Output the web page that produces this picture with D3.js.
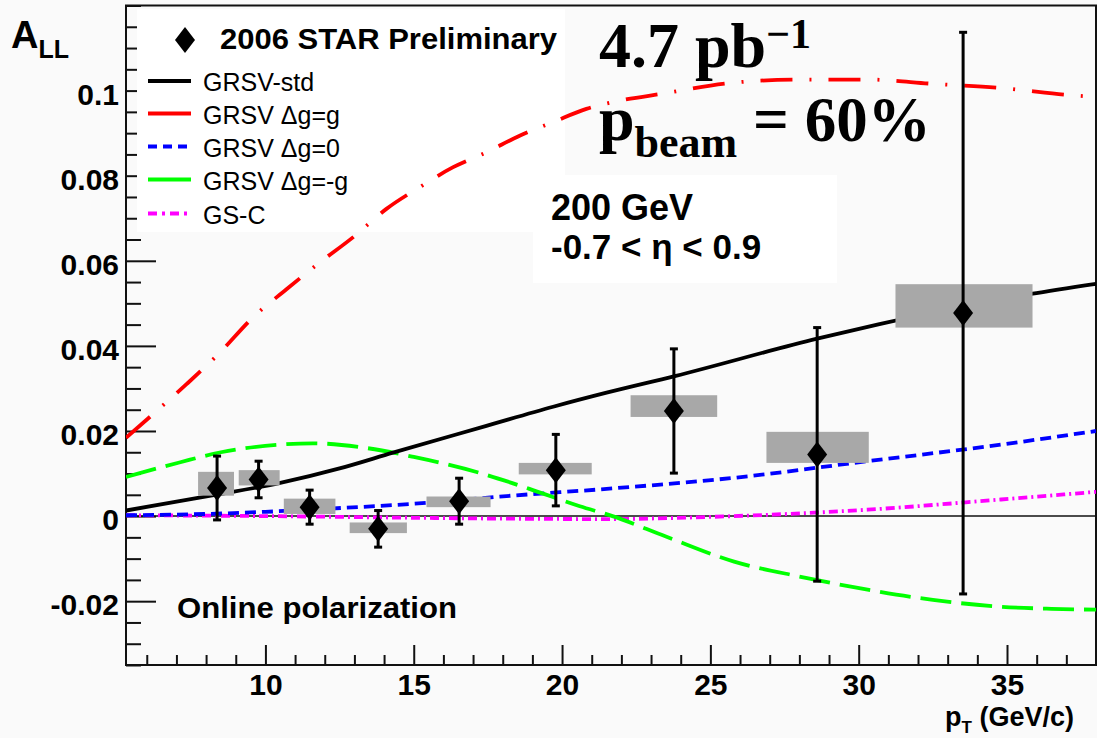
<!DOCTYPE html>
<html>
<head>
<meta charset="utf-8">
<script src="https://cdn.jsdelivr.net/npm/d3@7/dist/d3.min.js"></script>
<style>
  html, body { margin: 0; padding: 0; background: #fafafa; }
  svg { display: block; }
</style>
</head>
<body>
<svg id="chart" width="1097" height="738" font-family="'Liberation Sans', Arial, Helvetica, sans-serif"></svg>
<script>
// ---- Data: STAR 2006 inclusive jet A_LL vs pT ----
const pT      = [8.37, 9.77, 11.49, 13.80, 16.53, 19.79, 23.77, 28.60, 33.52];
const ALL     = [0.0066, 0.0086, 0.0021, -0.0030, 0.0035, 0.0108, 0.0247, 0.0145, 0.0477];
const statErr = [0.0075, 0.0043, 0.0040, 0.0043, 0.0054, 0.0084, 0.0146, 0.0298, 0.0660];
const sysLo   = [0.0048, 0.0072, 0.0005, -0.0040, 0.0021, 0.0098, 0.0233, 0.0125, 0.0443];
const sysHi   = [0.0104, 0.0108, 0.0041, -0.0015, 0.0046, 0.0125, 0.0284, 0.0198, 0.0545];
const binLo   = [7.73, 9.10, 10.62, 12.84, 15.43, 18.54, 22.31, 26.89, 31.24];
const binHi   = [8.94, 10.48, 12.36, 14.77, 17.59, 21.00, 25.23, 30.34, 35.86];

// Theory curves (pT, A_LL)
const stdPt  = [5.3, 7.1, 8.5, 10.5, 12.5, 14.3, 17.45, 19.7, 21.5, 23.8, 28.6, 30.7, 35.8, 38];
const stdVal = [0.0013, 0.0035, 0.0052, 0.0078, 0.0112, 0.0149, 0.0212, 0.0257, 0.0290, 0.0329, 0.0417, 0.0451, 0.0522, 0.0546];

const gPt  = [5.3, 6.2, 7.34, 8.46, 9.58, 10.71, 11.83, 12.95, 14.08, 15.2, 16.33, 17.45, 18.57, 19.7, 20.82, 21.72, 23.5, 25.7, 28.0, 30.3, 32.5, 34.8, 37.2, 38];
const gVal = [0.0184, 0.0239, 0.0310, 0.0384, 0.0467, 0.0533, 0.0596, 0.0655, 0.0722, 0.0773, 0.0820, 0.0855, 0.0894, 0.0926, 0.0957, 0.0973, 0.0994, 0.1018, 0.1026, 0.1026, 0.1016, 0.1006, 0.0989, 0.0985];

const zeroPt  = [5.3, 8.0, 10.0, 12.0, 15.0, 18.3, 21.7, 25.8, 30.3, 34.8, 38];
const zeroVal = [0.0002, 0.0005, 0.0010, 0.0017, 0.0029, 0.0048, 0.0065, 0.0090, 0.0129, 0.0168, 0.0200];

const negPt  = [5.3, 7.1, 8.5, 10.5, 11.6, 13.4, 15.0, 17.2, 18.9, 20.6, 21.7, 23.5, 25.8, 28.0, 30.3, 32.5, 34.8, 36.5, 38];
const negVal = [0.0092, 0.0126, 0.0150, 0.0168, 0.0171, 0.0160, 0.0139, 0.0102, 0.0064, 0.0023, 0.0000, -0.0048, -0.0107, -0.0142, -0.0173, -0.0197, -0.0213, -0.0218, -0.0220];

const gscPt  = [5.3, 10.0, 15.0, 18.0, 21.3, 25.8, 30.3, 34.8, 38];
const gscVal = [0.0002, 0.0000, -0.0004, -0.0006, -0.0007, 0.0000, 0.0015, 0.0039, 0.0057];

const curveNames = ["GRSV-std", "GRSV \u0394g=g", "GRSV \u0394g=0", "GRSV \u0394g=-g", "GS-C"];

const xTickValues = [10, 15, 20, 25, 30, 35];
const xTickLabels = ["10", "15", "20", "25", "30", "35"];
const yTickValues = [-0.02, 0, 0.02, 0.04, 0.06, 0.08, 0.1];
const yTickLabels = ["-0.02", "0", "0.02", "0.04", "0.06", "0.08", "0.1"];

// ---- Layout ----
const svg = d3.select("#chart");
const padL = 126, padR = 1096, padT = 5.5, padB = 665;

const x = d3.scaleLinear().domain([5.3, 38]).range([padL, padR]);
const y = d3.scaleLinear().domain([-0.035, 0.12]).range([padB, padT]);

svg.append("rect").attr("width", 1097).attr("height", 738).attr("fill", "#fafafa");

svg.append("defs").append("clipPath").attr("id", "plotclip")
  .append("rect").attr("x", padL).attr("y", padT).attr("width", padR - padL).attr("height", padB - padT);

const sansFont = "'Liberation Sans', Arial, sans-serif";
const serifFont = "'Liberation Serif', 'Times New Roman', serif";

// ---- Axes ----
const xMinor = d3.range(6, 38.001, 1).filter(v => !xTickValues.includes(v));
svg.append("g").attr("transform", `translate(0,${padB})`)
  .call(d3.axisBottom(x).tickValues(xMinor).tickSizeInner(-10).tickSizeOuter(0).tickFormat(""))
  .call(g => g.select(".domain").remove())
  .call(g => g.selectAll("line").attr("stroke", "#111").attr("stroke-width", 2));

svg.append("g").attr("transform", `translate(0,${padB})`)
  .call(d3.axisBottom(x).tickValues(xTickValues).tickSizeInner(-20).tickSizeOuter(0)
        .tickPadding(9).tickFormat((d, i) => xTickLabels[i]))
  .call(g => g.select(".domain").remove())
  .call(g => g.selectAll("line").attr("stroke", "#111").attr("stroke-width", 2))
  .call(g => g.selectAll("text").attr("font-size", 30).attr("font-weight", "bold")
        .attr("font-family", sansFont).attr("fill", "#000"));

const yMinor = d3.range(-0.035, 0.1201, 0.005).map(v => +v.toFixed(3))
  .filter(v => !yTickValues.some(t => Math.abs(t - v) < 1e-6));
svg.append("g").attr("transform", `translate(${padL},0)`)
  .call(d3.axisLeft(y).tickValues(yMinor).tickSizeInner(-15).tickSizeOuter(0).tickFormat(""))
  .call(g => g.select(".domain").remove())
  .call(g => g.selectAll("line").attr("stroke", "#111").attr("stroke-width", 2));

svg.append("g").attr("transform", `translate(${padL},0)`)
  .call(d3.axisLeft(y).tickValues(yTickValues).tickSizeInner(-30).tickSizeOuter(0)
        .tickPadding(7).tickFormat((d, i) => yTickLabels[i]))
  .call(g => g.select(".domain").remove())
  .call(g => g.selectAll("line").attr("stroke", "#111").attr("stroke-width", 2))
  .call(g => g.selectAll("text").attr("font-size", 30).attr("font-weight", "bold").attr("dy", "0.45em")
        .attr("font-family", sansFont).attr("fill", "#000"));

// ---- Legend box and label box (white fill) ----
svg.append("rect").attr("x", 137).attr("y", 9).attr("width", 428).attr("height", 223).attr("fill", "#ffffff");
svg.append("rect").attr("x", 533).attr("y", 175).attr("width", 304).attr("height", 108).attr("fill", "#ffffff");

// Frame
svg.append("rect").attr("x", padL).attr("y", padT).attr("width", padR - padL).attr("height", padB - padT)
  .attr("fill", "none").attr("stroke", "#111").attr("stroke-width", 2);

// Zero line
svg.append("line").attr("x1", padL).attr("x2", padR).attr("y1", y(0)).attr("y2", y(0))
  .attr("stroke", "#111").attr("stroke-width", 1.5);

// ---- Theory curves ----
const plot = svg.append("g").attr("clip-path", "url(#plotclip)");
const line = d3.line().x(d => x(d[0])).y(d => y(d[1])).curve(d3.curveMonotoneX);

const curves = [
  { pts: d3.zip(stdPt, stdVal),   color: "#000000", dash: null,          w: 3.8 },
  { pts: d3.zip(gPt, gVal),       color: "#ff0000", dash: "32,17,2,17",  w: 3.8 },
  { pts: d3.zip(zeroPt, zeroVal), color: "#0000ff", dash: "11,6",        w: 3.8 },
  { pts: d3.zip(negPt, negVal),   color: "#00ff00", dash: "31,10",       w: 3.8 },
  { pts: d3.zip(gscPt, gscVal),   color: "#ff00ff", dash: "9,4,2,4",     w: 3.8 }
];

// draw order: GS-C, Δg=0, Δg=-g, Δg=g, std
[4, 2, 3, 1, 0].forEach(i => {
  const c = curves[i];
  plot.append("path").attr("d", line(c.pts)).attr("fill", "none")
    .attr("stroke", c.color).attr("stroke-width", c.w)
    .attr("stroke-dasharray", c.dash);
});

// ---- Data: systematic boxes ----
const pts = pT.map((p, i) => ({ p, a: ALL[i], e: statErr[i], lo: sysLo[i], hi: sysHi[i], bl: binLo[i], bh: binHi[i] }));

plot.selectAll("rect.sys").data(pts).join("rect").attr("class", "sys")
  .attr("x", d => x(d.bl)).attr("width", d => x(d.bh) - x(d.bl))
  .attr("y", d => y(d.hi)).attr("height", d => y(d.lo) - y(d.hi))
  .attr("fill", "#a8a8a8");

// Statistical error bars
plot.selectAll("line.err").data(pts).join("line").attr("class", "err")
  .attr("x1", d => x(d.p)).attr("x2", d => x(d.p))
  .attr("y1", d => y(d.a + d.e)).attr("y2", d => y(d.a - d.e))
  .attr("stroke", "#000").attr("stroke-width", 3);

const caps = pts.flatMap(d => [d.a + d.e, d.a - d.e].map(v => ({ p: d.p, v })));
plot.selectAll("rect.cap").data(caps).join("rect").attr("class", "cap")
  .attr("x", d => x(d.p) - 4).attr("width", 8)
  .attr("y", d => y(d.v) - 1.5).attr("height", 3).attr("fill", "#000");

// Diamond markers
const diamond = "M0,-13L10,0L0,13L-10,0Z";
plot.selectAll("path.mk").data(pts).join("path").attr("class", "mk")
  .attr("d", diamond).attr("transform", d => `translate(${x(d.p)},${y(d.a)})`).attr("fill", "#000");

// ---- Legend ----
svg.append("path").attr("d", diamond).attr("transform", "translate(185,40)").attr("fill", "#000");
svg.append("text").attr("x", 220).attr("y", 49).attr("font-size", 30).attr("font-weight", "bold")
  .attr("textLength", 337).attr("lengthAdjust", "spacingAndGlyphs")
  .text("2006 STAR Preliminary");

const legRows = [81, 113.5, 146.5, 179.5, 213.5];
curveNames.forEach((name, i) => {
  const c = curves[i];
  svg.append("line").attr("x1", 148).attr("x2", 191).attr("y1", legRows[i]).attr("y2", legRows[i])
    .attr("stroke", c.color).attr("stroke-width", 4)
    .attr("stroke-dasharray", i === 2 ? "9,6" : (i === 4 ? "9,5,3,5" : null));
  svg.append("text").attr("x", 203).attr("y", legRows[i] + 10).attr("font-size", 25).text(name);
});

// ---- Annotations ----
const lum = svg.append("text").attr("x", 599).attr("y", 67).attr("font-family", serifFont)
  .attr("font-weight", "bold").attr("font-size", 64);
lum.append("tspan").text("4.7 pb");
lum.append("tspan").attr("dy", -19).attr("font-size", 42).text("\u22121");

const pol = svg.append("text").attr("x", 599).attr("y", 140).attr("font-family", serifFont)
  .attr("font-weight", "bold").attr("font-size", 64);
pol.append("tspan").text("p");
pol.append("tspan").attr("dy", 17).attr("font-size", 44).text("beam");
pol.append("tspan").attr("dy", -16).attr("font-size", 63).text(" = 60%");

svg.append("text").attr("x", 551).attr("y", 220).attr("font-size", 36).attr("font-weight", "bold")
  .text("200 GeV");
svg.append("text").attr("x", 551).attr("y", 259).attr("font-size", 35).attr("font-weight", "bold")
  .text("-0.7 < \u03b7 < 0.9");

svg.append("text").attr("x", 177).attr("y", 618).attr("font-size", 30).attr("font-weight", "bold")
  .attr("textLength", 280).attr("lengthAdjust", "spacingAndGlyphs")
  .text("Online polarization");

// Axis titles
const yTitle = svg.append("text").attr("x", 11).attr("y", 48).attr("font-weight", "bold").attr("font-size", 38);
yTitle.append("tspan").text("A");
yTitle.append("tspan").attr("dy", 10).attr("font-size", 25).text("LL");

const xTitle = svg.append("text").attr("x", 945).attr("y", 726).attr("font-weight", "bold").attr("font-size", 27);
xTitle.append("tspan").text("p");
xTitle.append("tspan").attr("dy", 7).attr("font-size", 17).text("T");
xTitle.append("tspan").attr("dy", -7).text(" (GeV/c)");
</script>
</body>
</html>
